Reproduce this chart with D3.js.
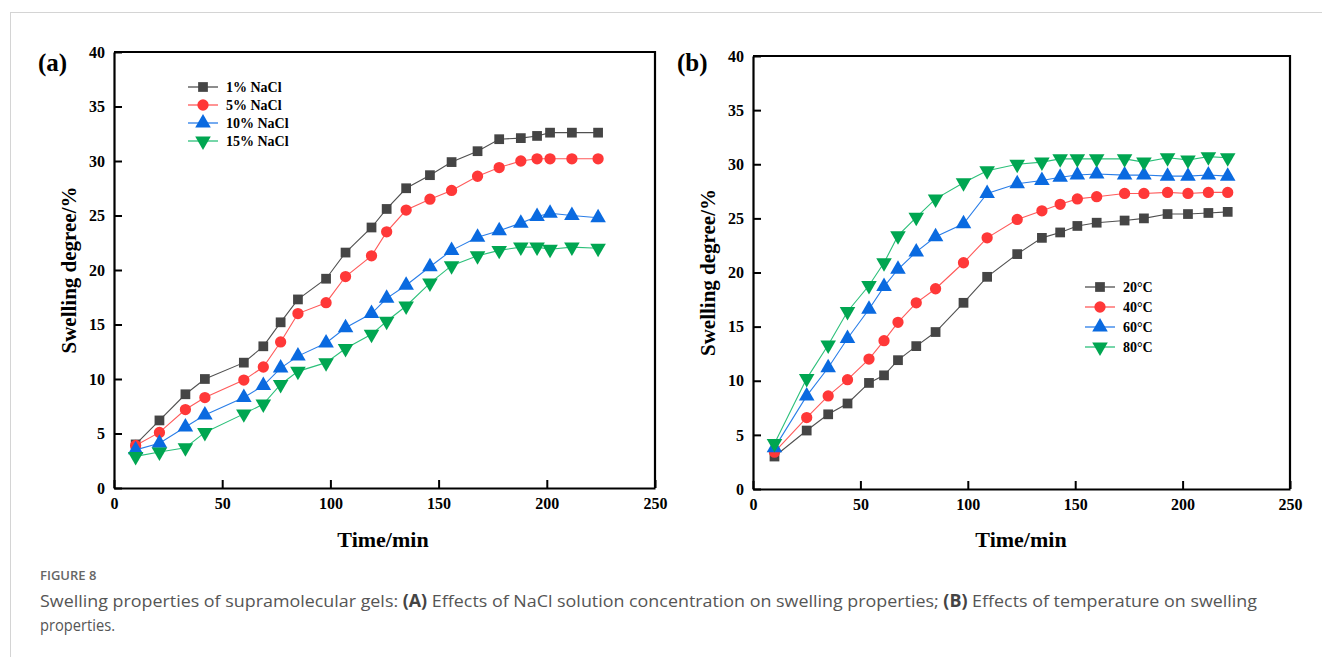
<!DOCTYPE html>
<html>
<head>
<meta charset="utf-8">
<script src="https://cdn.jsdelivr.net/npm/d3@7"></script>
<style>
body { margin:0; background:#fff; }
svg { display:block; }
</style>
</head>
<body>
<svg width="1322" height="657"></svg>
<script>
// panel (a): NaCl concentration
let time_a = [10, 21, 33, 42, 60, 69, 77, 85, 98, 107, 119, 126, 135, 146, 156, 168, 178, 188, 195.5, 201.5, 211.6, 223.7]
let nacl1 = [4.0, 6.2, 8.6, 10.0, 11.5, 13.0, 15.2, 17.3, 19.2, 21.6, 23.9, 25.6, 27.5, 28.7, 29.9, 30.9, 32.0, 32.1, 32.3, 32.6, 32.6, 32.6]
let nacl5 = [3.9, 5.1, 7.2, 8.3, 9.9, 11.1, 13.4, 16.0, 17.0, 19.4, 21.3, 23.5, 25.5, 26.5, 27.3, 28.6, 29.4, 30.0, 30.2, 30.2, 30.2, 30.2]
let nacl10 = [3.5, 4.1, 5.6, 6.7, 8.3, 9.4, 11.0, 12.1, 13.3, 14.7, 16.0, 17.4, 18.6, 20.3, 21.8, 23.0, 23.6, 24.3, 24.9, 25.2, 25.0, 24.8]
let nacl15 = [2.9, 3.3, 3.7, 5.1, 6.8, 7.7, 9.5, 10.7, 11.5, 12.8, 14.1, 15.3, 16.7, 18.8, 20.4, 21.3, 21.8, 22.1, 22.1, 21.9, 22.1, 22.0]
let names_a = ["1% NaCl", "5% NaCl", "10% NaCl", "15% NaCl"]

// panel (b): temperature
let time_b = [10, 25, 35, 44, 54, 61, 67.5, 76, 85, 98, 109, 123, 134.5, 143, 151, 160, 173, 182, 193, 202.5, 212, 221]
let temp20 = [3.0, 5.4, 6.9, 7.9, 9.8, 10.5, 11.9, 13.2, 14.5, 17.2, 19.6, 21.7, 23.2, 23.7, 24.3, 24.6, 24.8, 25.0, 25.4, 25.4, 25.5, 25.6]
let temp40 = [3.4, 6.6, 8.6, 10.1, 12.0, 13.7, 15.4, 17.2, 18.5, 20.9, 23.2, 24.9, 25.7, 26.3, 26.8, 27.0, 27.3, 27.3, 27.4, 27.3, 27.4, 27.4]
let temp60 = [3.8, 8.6, 11.2, 13.9, 16.6, 18.7, 20.3, 21.9, 23.3, 24.5, 27.3, 28.2, 28.5, 28.8, 29.0, 29.1, 29.0, 29.0, 28.9, 28.9, 29.0, 28.9]
let temp80 = [4.2, 10.2, 13.3, 16.4, 18.8, 20.9, 23.4, 25.1, 26.8, 28.3, 29.4, 30.0, 30.2, 30.5, 30.5, 30.5, 30.5, 30.2, 30.6, 30.4, 30.7, 30.6]
let names_b = ["20\u00b0C", "40\u00b0C", "60\u00b0C", "80\u00b0C"]

let x_ticks = [0, 50, 100, 150, 200, 250]
let y_ticks = [0, 5, 10, 15, 20, 25, 30, 35, 40]

let mark_fill = ["#454545", "#ff3838", "#0a6ae0", "#00a651"]
let line_col = ["#505050", "#ff5a5a", "#2a7ee8", "#2cc07a"]
let shapes = [d3.symbolSquare, d3.symbolCircle, d3.symbolTriangle, d3.symbolTriangle]
let sizes = [95, 100, 105, 105]
let serif = "'Liberation Serif','Times New Roman',serif"

let svg = d3.select("svg")

// page frame lines
svg.append("line").attr("x1", 10).attr("x2", 1322).attr("y1", 12.5).attr("y2", 12.5).attr("stroke", "#d4d4d4")
svg.append("line").attr("x1", 10.5).attr("x2", 10.5).attr("y1", 12).attr("y2", 657).attr("stroke", "#d4d4d4")

function drawPanel(cfg) {
    let x = d3.scaleLinear().domain([0, 250]).range([cfg.x0, cfg.x1])
    let y = d3.scaleLinear().domain([0, 40]).range([cfg.y0, cfg.y1])
    let g = svg.append("g")

    g.append("g").attr("transform", "translate(0," + cfg.y0 + ")")
        .call(d3.axisBottom(x).tickValues(x_ticks).tickSizeInner(-8).tickSizeOuter(0).tickPadding(10))
    g.append("g").attr("transform", "translate(" + cfg.x0 + ",0)")
        .call(d3.axisLeft(y).tickValues(y_ticks).tickSizeInner(-8).tickSizeOuter(0).tickPadding(9))
    g.selectAll(".domain").attr("stroke-width", 2.2)
    g.selectAll(".tick line").attr("stroke-width", 2)
    g.selectAll(".tick text").attr("font-family", serif).attr("font-weight", "bold").attr("font-size", 16).attr("fill", "#000")

    // top + right frame
    g.append("path")
        .attr("d", "M" + cfg.x0 + "," + cfg.y1 + "H" + cfg.x1 + "V" + cfg.y0)
        .attr("fill", "none").attr("stroke", "#000").attr("stroke-width", 2.2)

    let line = d3.line().x(d => x(d[0])).y(d => y(d[1]))
    cfg.series.forEach(function (vals, i) {
        let pts = vals.map((v, j) => [cfg.time[j], v])
        g.append("path").datum(pts).attr("d", line)
            .attr("fill", "none").attr("stroke", line_col[i]).attr("stroke-width", 1.1)
        g.selectAll(".m" + i).data(pts).enter().append("path")
            .attr("transform", d => "translate(" + x(d[0]) + "," + y(d[1]) + ")" + (i == 3 ? " rotate(180)" : ""))
            .attr("d", d3.symbol().type(shapes[i]).size(sizes[i]))
            .attr("fill", mark_fill[i])
    })

    // legend
    cfg.names.forEach(function (nm, i) {
        let ly = cfg.ly + i * cfg.lstep
        g.append("line").attr("x1", cfg.lx).attr("x2", cfg.lx + 30).attr("y1", ly).attr("y2", ly)
            .attr("stroke", line_col[i]).attr("stroke-width", 1.3)
        g.append("path").attr("transform", "translate(" + (cfg.lx + 15) + "," + ly + ")" + (i == 3 ? " rotate(180)" : ""))
            .attr("d", d3.symbol().type(shapes[i]).size(sizes[i]))
            .attr("fill", mark_fill[i])
        g.append("text").attr("x", cfg.lx + 38).attr("y", ly + 5)
            .attr("font-family", serif).attr("font-weight", "bold").attr("font-size", 14)
            .text(nm)
    })

    // titles
    g.append("text").attr("x", cfg.tx).attr("y", 547)
        .attr("text-anchor", "middle").attr("font-family", serif).attr("font-weight", "bold").attr("font-size", 22)
        .text("Time/min")
    g.append("text").attr("transform", "translate(" + (cfg.x0 - 38) + "," + ((cfg.y0 + cfg.y1) / 2) + ") rotate(-90)")
        .attr("text-anchor", "middle").attr("font-family", serif).attr("font-weight", "bold").attr("font-size", 21)
        .text("Swelling degree/%")
    g.append("text").attr("x", cfg.x0 - 76).attr("y", 71)
        .attr("font-family", serif).attr("font-weight", "bold").attr("font-size", 25)
        .text(cfg.label)
}

drawPanel({x0: 114, x1: 655, y0: 488, y1: 52, time: time_a, series: [nacl1, nacl5, nacl10, nacl15],
    names: names_a, lx: 188, ly: 87, lstep: 18, label: "(a)", tx: 383})
drawPanel({x0: 753, x1: 1290, y0: 489, y1: 56, time: time_b, series: [temp20, temp40, temp60, temp80],
    names: names_b, lx: 1085, ly: 287, lstep: 20, label: "(b)", tx: 1021})

// caption
let cap = "'Open Sans','Noto Sans',sans-serif"
svg.append("text").attr("x", 40).attr("y", 580).attr("font-family", cap).attr("font-weight", 600)
    .attr("font-size", 13).attr("fill", "#666").text("FIGURE 8")
let l1 = svg.append("text").attr("x", 40).attr("y", 607).attr("font-family", cap).attr("font-size", 17)
    .attr("fill", "#555").attr("textLength", 1217).attr("lengthAdjust", "spacingAndGlyphs")
l1.append("tspan").text("Swelling properties of supramolecular gels: ")
l1.append("tspan").attr("font-weight", "bold").attr("fill", "#444").text("(A)")
l1.append("tspan").text(" Effects of NaCl solution concentration on swelling properties; ")
l1.append("tspan").attr("font-weight", "bold").attr("fill", "#444").text("(B)")
l1.append("tspan").text(" Effects of temperature on swelling")
svg.append("text").attr("x", 40).attr("y", 631).attr("font-family", cap).attr("font-size", 17)
    .attr("fill", "#555").attr("textLength", 75).attr("lengthAdjust", "spacingAndGlyphs").text("properties.")
</script>
</body>
</html>
